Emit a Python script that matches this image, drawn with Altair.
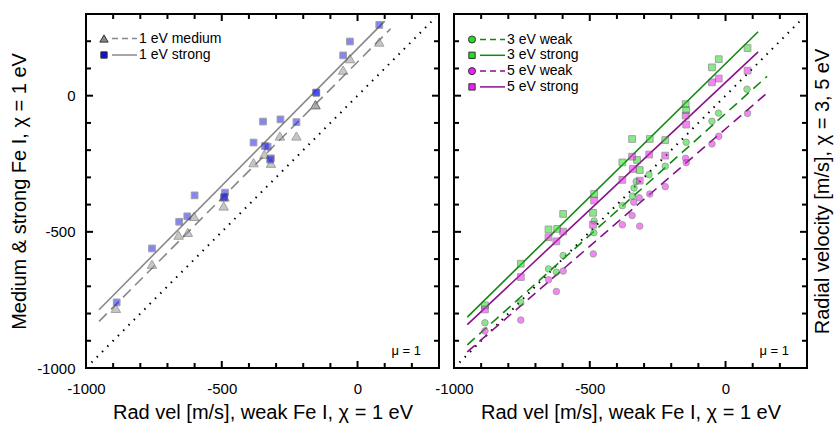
import altair as alt
import pandas as pd

# ---------------- data ----------------
major_ticks = [-1000, -500, 0]
minor_ticks = [-900, -800, -700, -600, -400, -300, -200, -100, 100, 200]

# Left panel: chi = 1 eV
strong1_x = [80, -28, -53, -152, -152, -348, -284, -225, -383, -341, -331, -319, -322,
             -600, -488, -491, -491, -627, -657, -757, -887]
strong1_y = [260, 199, 148, 11, 11, -95, -87, -97, -172, -185, -187, -230, -235,
             -366, -356, -372, -374, -443, -463, -561, -759]
medium1_x = [80, -28, -53, -155, -155, -286, -225, -343, -383, -319, -490, -493,
             -602, -659, -625, -757, -890]
medium1_y = [197, 136, 94, -33, -33, -148, -148, -215, -246, -248, -372, -405,
             -443, -512, -502, -619, -781]
fit_strong1_x = [-952, 100]
fit_strong1_y = [-786, 274]
fit_medium1_x = [-952, 122]
fit_medium1_y = [-829, 246]
identity_x = [-980, 288]
identity_y = [-980, 288]

# Right panel: chi = 3 and 5 eV
strong3_x = [81, -25, -50, -147, -145, -344, -279, -222, -380, -326, -316, -484,
             -598, -488, -652, -620, -754, -886]
strong3_y = [175, 134, 104, -31, -53, -159, -159, -163, -245, -236, -273, -361,
             -434, -430, -491, -489, -617, -770]
strong5_x = [81, -25, -50, -147, -145, -344, -281, -222, -341, -380, -316, -484,
             -488, -652, -598, -623, -754, -886]
strong5_y = [92, 63, 49, -73, -106, -224, -216, -220, -269, -309, -312, -385,
             -474, -520, -499, -535, -666, -785]
weak3_x = [79, -26, -50, -145, -222, -282, -329, -337, -343, -380, -484, -485,
           -598, -652, -623, -754, -886]
weak3_y = [24, -64, -94, -171, -259, -290, -315, -339, -369, -404, -460, -503,
           -587, -636, -648, -760, -834]
weak5_x = [81, -25, -50, -147, -145, -222, -279, -318, -338, -344, -380, -316,
           -487, -598, -652, -623, -754, -886]
weak5_y = [-65, -149, -177, -230, -246, -334, -361, -375, -391, -440, -474, -479,
           -581, -644, -676, -719, -824, -864]
fit_strong3_x = [-951, 120]
fit_strong3_y = [-813, 235]
fit_strong5_x = [-951, 120]
fit_strong5_y = [-841, 161]
fit_weak3_x = [-951, 153]
fit_weak3_y = [-915, 71]
fit_weak5_x = [-951, 153]
fit_weak5_y = [-941, 10]

left_legend = ["1 eV medium", "1 eV strong"]
right_legend = ["3 eV weak", "3 eV strong", "5 eV weak", "5 eV strong"]
annotation = "μ = 1"

x_title = "Rad vel [m/s], weak Fe I, χ = 1 eV"
y_title_left = "Medium & strong Fe I, χ = 1 eV"
y_title_right = "Radial velocity [m/s], χ = 3, 5 eV"

# ---------------- styling ----------------
FONT = "Liberation Sans"
W, H = 353, 354
MAJ, MIN = 7, 5
xs = alt.Scale(domain=[-1000, 300], nice=False, zero=False)
ys = alt.Scale(domain=[-1000, 300], nice=False, zero=False)
LABEL_EXPR = "datum.value + ''"

x_axis = alt.Axis(values=major_ticks, labelExpr=LABEL_EXPR, ticks=False, domain=False,
                  grid=False, labelFlush=False, labelPadding=13, labelFontSize=15,
                  labelFont=FONT, labelColor="black", title=x_title, titleFontSize=20,
                  titleFont=FONT, titleColor="black", titleFontWeight="normal",
                  titlePadding=6)
y_axis_left = alt.Axis(values=major_ticks, labelExpr=LABEL_EXPR, ticks=False, domain=False,
                       grid=False, labelFlush=False, labelPadding=11, labelFontSize=15,
                       labelFont=FONT, labelColor="black", title=y_title_left,
                       titleFontSize=20, titleFont=FONT, titleColor="black",
                       titleFontWeight="normal", titlePadding=7)
y_axis_right = alt.Axis(orient="right", labels=False, ticks=False, domain=False, grid=False,
                        title=y_title_right, titleFontSize=20, titleFont=FONT,
                        titleColor="black", titleFontWeight="normal", titleAngle=270,
                        titlePadding=25)


def enc(yaxis):
    return dict(x=alt.X("x:Q", scale=xs, axis=x_axis), y=alt.Y("y:Q", scale=ys, axis=yaxis))


def points(xv, yv, shape, fill, size, yaxis):
    df = pd.DataFrame({"x": xv, "y": yv})
    return alt.Chart(df).mark_point(shape=shape, filled=True, fill=fill, stroke="#555555",
                                    strokeWidth=1, size=size, opacity=0.55).encode(**enc(yaxis))


def line(xv, yv, color, width, dash, yaxis):
    df = pd.DataFrame({"x": xv, "y": yv})
    kw = dict(color=color, strokeWidth=width)
    if dash:
        kw["strokeDash"] = dash
    return alt.Chart(df).mark_line(**kw).encode(**enc(yaxis))


def tick_layers(yaxis):
    out = []
    for vals, ln in ((major_ticks, MAJ), (minor_ticks, MIN)):
        df = pd.DataFrame({"v": vals})
        base = alt.Chart(df).mark_rule(color="black", strokeWidth=2)
        xe = alt.X("v:Q", scale=xs, axis=x_axis)
        ye = alt.Y("v:Q", scale=ys, axis=yaxis)
        out += [
            base.encode(x=xe, y=alt.value(H), y2=alt.value(H - ln)),
            base.encode(x=xe, y=alt.value(0), y2=alt.value(ln)),
            base.encode(y=ye, x=alt.value(0), x2=alt.value(ln)),
            base.encode(y=ye, x=alt.value(W), x2=alt.value(W - ln)),
        ]
    return out


def frame():
    df = pd.DataFrame({"f": [0]})
    base = alt.Chart(df).mark_rule(color="black", strokeWidth=2, strokeCap="square")
    return [
        base.encode(x=alt.value(0), x2=alt.value(W), y=alt.value(0)),
        base.encode(x=alt.value(0), x2=alt.value(W), y=alt.value(H)),
        base.encode(y=alt.value(0), y2=alt.value(H), x=alt.value(0)),
        base.encode(y=alt.value(0), y2=alt.value(H), x=alt.value(W)),
    ]


def legend_row(label, i, shape, fill, size, color, dash, y0, dy):
    ypos = y0 + i * dy
    df = pd.DataFrame({"label": [label]})
    sym = alt.Chart(df).mark_point(shape=shape, filled=True, fill=fill, stroke="#333333",
                                   strokeWidth=1, size=size, opacity=1).encode(
        x=alt.value(18), y=alt.value(ypos))
    rk = dict(color=color, strokeWidth=1.5)
    if dash:
        rk["strokeDash"] = dash
    seg = alt.Chart(df).mark_rule(**rk).encode(x=alt.value(26), x2=alt.value(51),
                                               y=alt.value(ypos))
    txt = alt.Chart(df).mark_text(align="left", baseline="middle", font=FONT, fontSize=14,
                                  color="black").encode(
        text="label:N", x=alt.value(53), y=alt.value(ypos))
    return [sym, seg, txt]


def mu_text():
    df = pd.DataFrame({"t": [annotation]})
    return alt.Chart(df).mark_text(align="right", baseline="middle", font=FONT, fontSize=13,
                                   color="black").encode(
        text="t:N", x=alt.value(W - 18), y=alt.value(H - 17))


GRAY_LINE = "#888888"
GREEN_LINE = "#118811"
PURPLE_LINE = "#881188"

left_layers = [
    line(identity_x, identity_y, "black", 2, [1.5, 6], y_axis_left),
    line(fit_medium1_x, fit_medium1_y, GRAY_LINE, 1.6, [11, 6], y_axis_left),
    line(fit_strong1_x, fit_strong1_y, GRAY_LINE, 1.6, None, y_axis_left),
    points(medium1_x, medium1_y, "triangle-up", "#999999", 90, y_axis_left),
    points(strong1_x, strong1_y, "square", "#2222ee", 45, y_axis_left),
] + legend_row(left_legend[0], 0, "triangle-up", "#888888", 70, GRAY_LINE, [6, 4], 24.5, 16.5) + \
    legend_row(left_legend[1], 1, "square", "#1111cc", 40, GRAY_LINE, None, 24.5, 16.5) + \
    [mu_text()] + tick_layers(y_axis_left) + frame()

left = alt.layer(*left_layers).properties(width=W, height=H)

right_layers = [
    line(identity_x, identity_y, "black", 2, [1.5, 6], y_axis_right),
    line(fit_weak3_x, fit_weak3_y, GREEN_LINE, 1.6, [10, 6], y_axis_right),
    line(fit_weak5_x, fit_weak5_y, PURPLE_LINE, 1.6, [10, 6], y_axis_right),
    line(fit_strong3_x, fit_strong3_y, GREEN_LINE, 1.6, None, y_axis_right),
    line(fit_strong5_x, fit_strong5_y, PURPLE_LINE, 1.6, None, y_axis_right),
    points(weak3_x, weak3_y, "circle", "#22dd22", 42, y_axis_right),
    points(strong3_x, strong3_y, "square", "#22dd22", 45, y_axis_right),
    points(weak5_x, weak5_y, "circle", "#ee22ee", 42, y_axis_right),
    points(strong5_x, strong5_y, "square", "#ee22ee", 45, y_axis_right),
] + legend_row(right_legend[0], 0, "circle", "#22dd22", 50, GREEN_LINE, [6, 4], 25.5, 15.8) + \
    legend_row(right_legend[1], 1, "square", "#22dd22", 40, GREEN_LINE, None, 25.5, 15.8) + \
    legend_row(right_legend[2], 2, "circle", "#ee22ee", 50, PURPLE_LINE, [6, 4], 25.5, 15.8) + \
    legend_row(right_legend[3], 3, "square", "#ee22ee", 40, PURPLE_LINE, None, 25.5, 15.8) + \
    [mu_text()] + tick_layers(y_axis_right) + frame()

right = alt.layer(*right_layers).properties(width=W, height=H)

chart = alt.hconcat(left, right, spacing=15, bounds="flush").properties(
    padding={"left": 8, "top": 11, "right": 5, "bottom": 5}
).configure_view(stroke="black", strokeWidth=2)

chart.save("out.html", embed_options={"renderer": "svg", "actions": False})
